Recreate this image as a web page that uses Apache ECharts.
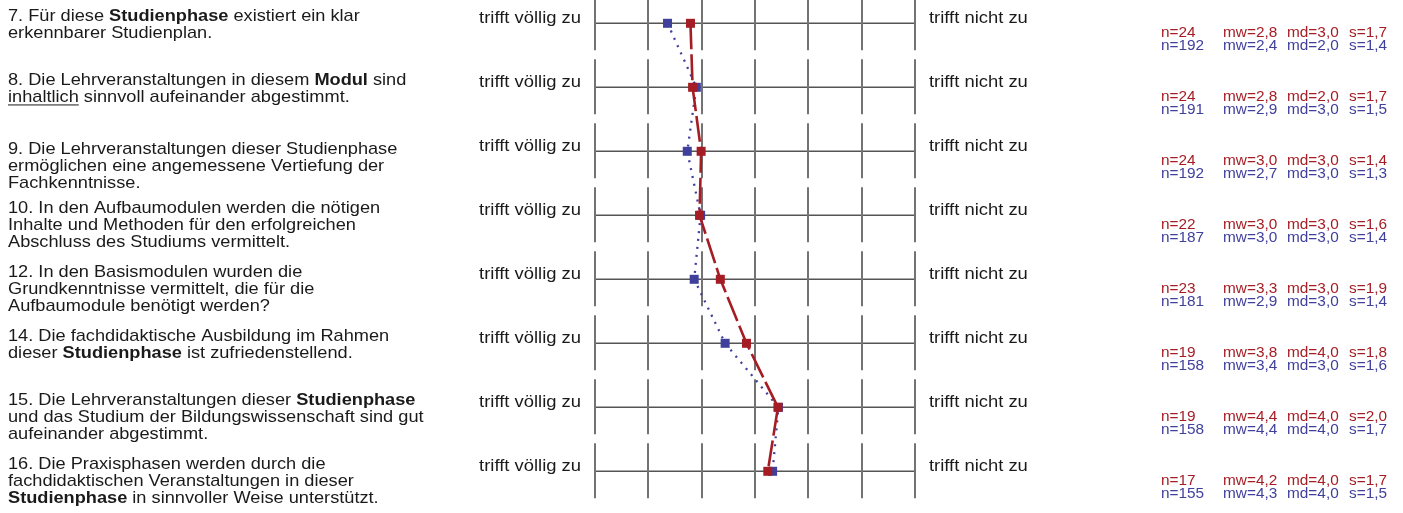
<!DOCTYPE html>
<html><head><meta charset="utf-8">
<script src="https://cdn.jsdelivr.net/npm/echarts@6/dist/echarts.min.js"></script>
<style>html,body{margin:0;padding:0;background:#fff}#c{width:1403px;height:513px}</style>
</head><body><div id="c"></div>
<script>
// ---------- data ----------
const scaleTicks = [1, 2, 3, 4, 5, 6, 7];
const leftLabel = 'trifft völlig zu';
const rightLabel = 'trifft nicht zu';
const questions = [
  ['7. Für diese **Studienphase** existiert ein klar', 'erkennbarer Studienplan.'],
  ['8. Die Lehrveranstaltungen in diesem **Modul** sind', '__inhaltlich__ sinnvoll aufeinander abgestimmt.'],
  ['9. Die Lehrveranstaltungen dieser Studienphase', 'ermöglichen eine angemessene Vertiefung der', 'Fachkenntnisse.'],
  ['10. In den Aufbaumodulen werden die nötigen', 'Inhalte und Methoden für den erfolgreichen', 'Abschluss des Studiums vermittelt.'],
  ['12. In den Basismodulen wurden die', 'Grundkenntnisse vermittelt, die für die', 'Aufbaumodule benötigt werden?'],
  ['14. Die fachdidaktische Ausbildung im Rahmen', 'dieser **Studienphase** ist zufriedenstellend.'],
  ['15. Die Lehrveranstaltungen dieser **Studienphase**', 'und das Studium der Bildungswissenschaft sind gut', 'aufeinander abgestimmt.'],
  ['16. Die Praxisphasen werden durch die', 'fachdidaktischen Veranstaltungen in dieser', '**Studienphase** in sinnvoller Weise unterstützt.']
];
// profile positions
const redProfile  = [2.79, 2.83, 2.99, 2.96, 3.35, 3.84, 4.43, 4.24];
const blueProfile = [2.36, 2.90, 2.73, 2.98, 2.86, 3.44, 4.44, 4.33];
// statistics
const redN   = [24, 24, 24, 22, 23, 19, 19, 17];
const redMw  = [2.8, 2.8, 3.0, 3.0, 3.3, 3.8, 4.4, 4.2];
const redMd  = [3.0, 2.0, 3.0, 3.0, 3.0, 4.0, 4.0, 4.0];
const redS   = [1.7, 1.7, 1.4, 1.6, 1.9, 1.8, 2.0, 1.7];
const blueN  = [192, 191, 192, 187, 181, 158, 158, 155];
const blueMw = [2.4, 2.9, 2.7, 3.0, 2.9, 3.4, 4.4, 4.3];
const blueMd = [2.0, 3.0, 3.0, 3.0, 3.0, 3.0, 4.0, 4.0];
const blueS  = [1.4, 1.5, 1.3, 1.4, 1.4, 1.6, 1.7, 1.5];

// ---------- style / layout ----------
const RED = '#a51d24', BLUE = '#3f3f9c', TXT = '#1a1a1a';
const FONT = '"Liberation Sans", Arial, Helvetica, sans-serif';
const Q = { x: 8, size: 17, scaleX: 1.07, lh: 17, firstMid: -6.5 };
const qShift = [0, 0, 5, 0, 0, 0, 0, 0];
const LBL = { gap: 14, dy: -4.5 };
const ST = { size: 14.5, scaleX: 1.06, cols: [1161, 1223, 1287, 1349], redDy: 9.5, blueDy: 22.5 };
const ROW = { up: 28, down: 27 };

const ctx = document.createElement('canvas').getContext('2d');
function measure(t, bold) { ctx.font = (bold ? 'bold ' : '') + Q.size + 'px ' + FONT; return ctx.measureText(t).width; }
const fmt = v => v.toFixed(1).replace('.', ',');

function toRich(line) {
  return line.replace(/\*\*(.+?)\*\*/g, '{b|$1}').replace(/__(.+?)__/g, '{u|$1}');
}
const richStyles = {
  b: { fontWeight: 'bold', fontSize: Q.size, fontFamily: FONT, lineHeight: Q.lh, fill: TXT, color: TXT },
  u: { fontSize: Q.size, fontFamily: FONT, lineHeight: Q.lh, fill: TXT, color: TXT }
};

function renderRow(params, api) {
  const idx = api.value(1);
  const a = api.coord([scaleTicks[0], idx]);
  const b = api.coord([scaleTicks[scaleTicks.length - 1], idx]);
  const y = a[1];
  const ch = [];
  ch.push({ type: 'line', shape: { x1: a[0], y1: y, x2: b[0], y2: y }, style: { stroke: '#555', lineWidth: 1.6 } });
  scaleTicks.forEach(t => {
    const x = Math.round(api.coord([t, idx])[0]);
    ch.push({ type: 'line', shape: { x1: x, y1: y - ROW.up, x2: x, y2: y + ROW.down }, style: { stroke: '#737373', lineWidth: 2 } });
  });
  ch.push({ type: 'text', x: a[0] - LBL.gap, y: y + LBL.dy, scaleX: 1.15,
    style: { text: leftLabel, fontSize: 16, fontFamily: FONT, fill: TXT, align: 'right', verticalAlign: 'middle' } });
  ch.push({ type: 'text', x: b[0] + LBL.gap, y: y + LBL.dy, scaleX: 1.15,
    style: { text: rightLabel, fontSize: 16, fontFamily: FONT, fill: TXT, align: 'left', verticalAlign: 'middle' } });
  // question
  const lines = questions[idx];
  const top = y + Q.firstMid + qShift[idx] - Q.lh / 2;
  ch.push({ type: 'text', x: Q.x, y: top, scaleX: Q.scaleX,
    style: { text: lines.map(toRich).join('\n'), fontSize: Q.size, fontFamily: FONT, fill: TXT,
      lineHeight: Q.lh, align: 'left', verticalAlign: 'top', rich: richStyles } });
  lines.forEach((ln, li) => {
    const m = ln.match(/^(.*?)__(.+?)__/);
    if (m) {
      const pre = measure(m[1].replace(/\*\*/g, ''), false) * Q.scaleX;
      const w = measure(m[2], false) * Q.scaleX;
      const uy = top + li * Q.lh + Q.lh / 2 + Q.size * 0.42;
      ch.push({ type: 'line', shape: { x1: Q.x + pre, y1: uy, x2: Q.x + pre + w, y2: uy }, style: { stroke: TXT, lineWidth: 1 } });
    }
  });
  // statistics
  const rv = ['n=' + redN[idx], 'mw=' + fmt(redMw[idx]), 'md=' + fmt(redMd[idx]), 's=' + fmt(redS[idx])];
  const bv = ['n=' + blueN[idx], 'mw=' + fmt(blueMw[idx]), 'md=' + fmt(blueMd[idx]), 's=' + fmt(blueS[idx])];
  [[rv, RED, ST.redDy], [bv, BLUE, ST.blueDy]].forEach(([vals, col, dy]) => {
    vals.forEach((t, k) => {
      ch.push({ type: 'text', x: ST.cols[k], y: y + dy, scaleX: ST.scaleX,
        style: { text: t, fontSize: ST.size, fontFamily: FONT, fill: col, align: 'left', verticalAlign: 'middle' } });
    });
  });
  return { type: 'group', children: ch };
}

const chart = echarts.init(document.getElementById('c'), null, { renderer: 'canvas' });
chart.setOption({
  animation: false,
  backgroundColor: '#fff',
  grid: { left: 595, right: 488, top: 0, bottom: 0 },
  xAxis: { type: 'value', min: scaleTicks[0], max: scaleTicks[scaleTicks.length - 1], show: false },
  yAxis: { type: 'value', inverse: true, min: -23.3 / 64, max: -23.3 / 64 + 513 / 64, show: false },
  series: [
    { type: 'custom', renderItem: renderRow, data: questions.map((q, i) => [1, i]), encode: { x: 0, y: 1 }, silent: true, z: 1, clip: false },
    { type: 'line', data: blueProfile.map((v, i) => [v, i]), symbol: 'rect', symbolSize: 9, showSymbol: true,
      lineStyle: { color: BLUE, width: 2.3, type: [2, 6] }, itemStyle: { color: BLUE }, z: 3, silent: true },
    { type: 'line', data: redProfile.map((v, i) => [v, i]), symbol: 'rect', symbolSize: 9, showSymbol: true,
      lineStyle: { color: RED, width: 2.6, type: [26, 5] }, itemStyle: { color: RED }, z: 4, silent: true }
  ]
});
</script></body></html>
